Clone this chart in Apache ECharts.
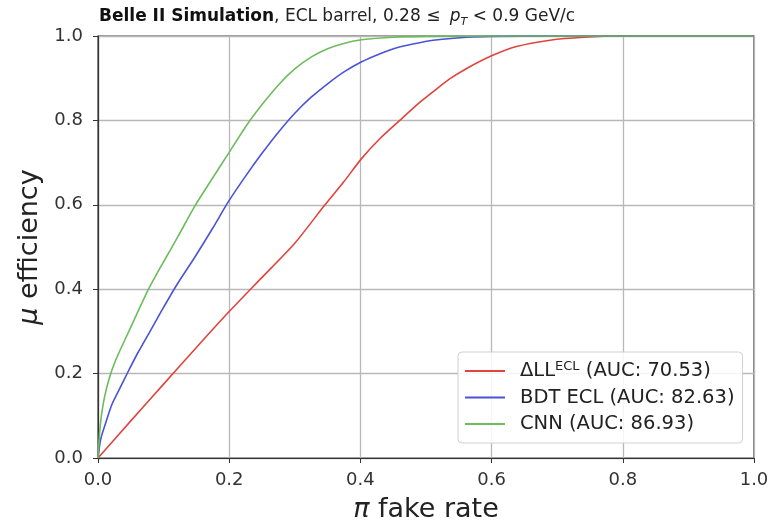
<!DOCTYPE html>
<html>
<head>
<meta charset="utf-8">
<script src="https://cdn.jsdelivr.net/npm/echarts@6/dist/echarts.min.js"></script>
<style>
html,body{margin:0;padding:0;background:#fff;}
#chart{width:781px;height:520px;}
</style>
</head>
<body>
<div id="chart"></div>
<script>
// ---- data ----
var xTicks = [0.0, 0.2, 0.4, 0.6, 0.8, 1.0];
var yTicks = [0.0, 0.2, 0.4, 0.6, 0.8, 1.0];

var seriesNames = ["ΔLL^ECL (AUC: 70.53)", "BDT ECL (AUC: 82.63)", "CNN (AUC: 86.93)"];

var llX = [0, 0.05, 0.1, 0.15, 0.2, 0.25, 0.3, 0.346, 0.375, 0.402, 0.43, 0.46, 0.49, 0.511, 0.535, 0.562, 0.6, 0.638, 0.689, 0.74, 0.8, 1.0];
var llY = [0, 0.088, 0.175, 0.262, 0.347, 0.428, 0.509, 0.60, 0.655, 0.71, 0.757, 0.80, 0.842, 0.868, 0.897, 0.923, 0.953, 0.975, 0.99, 0.997, 1.0, 1.0];

var bdtX = [0, 0.0025, 0.005, 0.010, 0.021, 0.03, 0.046, 0.061, 0.08, 0.097, 0.12, 0.148, 0.175, 0.199, 0.225, 0.25, 0.275, 0.3, 0.325, 0.351, 0.375, 0.402, 0.43, 0.453, 0.48, 0.511, 0.562, 0.6, 0.7, 1.0];
var bdtY = [0, 0.03, 0.05, 0.075, 0.126, 0.155, 0.205, 0.25, 0.302, 0.349, 0.41, 0.477, 0.545, 0.608, 0.668, 0.722, 0.772, 0.817, 0.855, 0.888, 0.915, 0.939, 0.958, 0.971, 0.981, 0.99, 0.997, 0.999, 1.0, 1.0];

var cnnX = [0, 0.0025, 0.005, 0.010, 0.018, 0.026, 0.035, 0.05, 0.077, 0.1, 0.122, 0.148, 0.175, 0.199, 0.234, 0.275, 0.3, 0.326, 0.35, 0.376, 0.402, 0.45, 0.5, 0.6, 0.8, 1.0];
var cnnY = [0, 0.06, 0.098, 0.145, 0.193, 0.228, 0.26, 0.31, 0.40, 0.465, 0.525, 0.598, 0.664, 0.722, 0.805, 0.884, 0.922, 0.951, 0.97, 0.983, 0.991, 0.997, 0.999, 1.0, 1.0, 1.0];

function pairs(xs, ys){ return xs.map(function(x,i){ return [x, ys[i]]; }); }

var colors = ['#e0443c', '#4b53d6', '#6cbc5c'];
var FONT = 'DejaVu Sans';

var chart = echarts.init(document.getElementById('chart'), null, {renderer:'canvas'});
chart.setOption({
  animation: false,
  backgroundColor: '#fff',
  textStyle: {fontFamily: FONT},
  title: {
    left: 99, top: 6, padding: 0,
    text: '{b|Belle II Simulation}{n|, ECL barrel, 0.28 ≤ }{i|p}{s|T}{n| < 0.9 GeV/c}',
    textStyle: {
      fontWeight: 'normal',
      rich: {
        b: {fontFamily: FONT, fontWeight: 'bold', fontSize: 17, color: '#111', lineHeight: 22},
        n: {fontFamily: FONT, fontWeight: 'normal', fontSize: 17, color: '#222', lineHeight: 22},
        i: {fontFamily: FONT, fontWeight: 'normal', fontStyle: 'italic', fontSize: 17, color: '#222', lineHeight: 22, padding: [0,0,0,4]},
        s: {fontFamily: FONT, fontWeight: 'normal', fontStyle: 'italic', fontSize: 11, color: '#222', verticalAlign: 'bottom', lineHeight: 16, padding: [8,0,0,0]}
      }
    }
  },
  grid: {left: 98, right: 27, top: 36, bottom: 62, show: true, borderColor: '#333', borderWidth: 1.2,
         containLabel: false, outerBoundsMode: 'none'},
  xAxis: {
    type: 'value', min: 0, max: 1, interval: 0.2,
    name: '{i|π} fake rate', nameLocation: 'middle', nameGap: 38,
    nameTextStyle: {fontSize: 27, color: '#222', fontFamily: FONT,
      rich: {i: {fontStyle: 'italic', fontSize: 27, color: '#222', fontFamily: FONT}}},
    axisLine: {show: true, lineStyle: {color: '#333', width: 1.2}},
    axisTick: {show: true, length: 5, lineStyle: {color: '#333'}},
    axisLabel: {fontSize: 18, color: '#333', margin: 13, formatter: function(v){ return v.toFixed(1); }},
    splitLine: {show: true, lineStyle: {color: '#b8b8b8', width: 1.3}}
  },
  yAxis: {
    type: 'value', min: 0, max: 1, interval: 0.2,
    name: '{i|μ} efficiency', nameLocation: 'middle', nameGap: 47, nameRotate: 90,
    nameTextStyle: {fontSize: 27, color: '#222', fontFamily: FONT,
      rich: {i: {fontStyle: 'italic', fontSize: 27, color: '#222', fontFamily: FONT}}},
    axisLine: {show: true, lineStyle: {color: '#333', width: 1.2}},
    axisTick: {show: true, length: 5, lineStyle: {color: '#333'}},
    axisLabel: {fontSize: 18, color: '#333', margin: 15, formatter: function(v){ return v.toFixed(1); }},
    splitLine: {show: true, lineStyle: {color: '#b8b8b8', width: 1.3}}
  },
  legend: {
    orient: 'vertical', left: 458, top: 352,
    backgroundColor: 'rgba(255,255,255,0.85)', borderColor: '#d0d0d0', borderWidth: 1, borderRadius: 4,
    padding: [8, 8, 9, 7],
    itemWidth: 40, itemHeight: 2, itemGap: 6.5, icon: 'rect',
    data: seriesNames,
    formatter: function(name){
      if (name.indexOf('^ECL') >= 0) {
        return '{g|}{t|ΔLL}{sup|ECL}{t| (AUC: 70.53)}';
      }
      return '{g|}{t|' + name + '}';
    },
    textStyle: {
      fontFamily: FONT, fontSize: 19.5, color: '#222',
      rich: {
        g: {width: 10},
        t: {fontFamily: FONT, fontSize: 19.5, color: '#222', lineHeight: 22},
        sup: {fontFamily: FONT, fontSize: 13, color: '#222', verticalAlign: 'top', lineHeight: 22, padding: [0,0,6,0]}
      }
    }
  },
  series: [
    {name: seriesNames[0], type: 'line', data: pairs(llX, llY), showSymbol: false, smooth: 0.25, lineStyle: {color: colors[0], width: 1.6}, itemStyle: {color: colors[0]}},
    {name: seriesNames[1], type: 'line', data: pairs(bdtX, bdtY), showSymbol: false, smooth: 0.25, lineStyle: {color: colors[1], width: 1.6}, itemStyle: {color: colors[1]}},
    {name: seriesNames[2], type: 'line', data: pairs(cnnX, cnnY), showSymbol: false, smooth: 0.25, lineStyle: {color: colors[2], width: 1.6}, itemStyle: {color: colors[2]}}
  ]
});
</script>
</body>
</html>
